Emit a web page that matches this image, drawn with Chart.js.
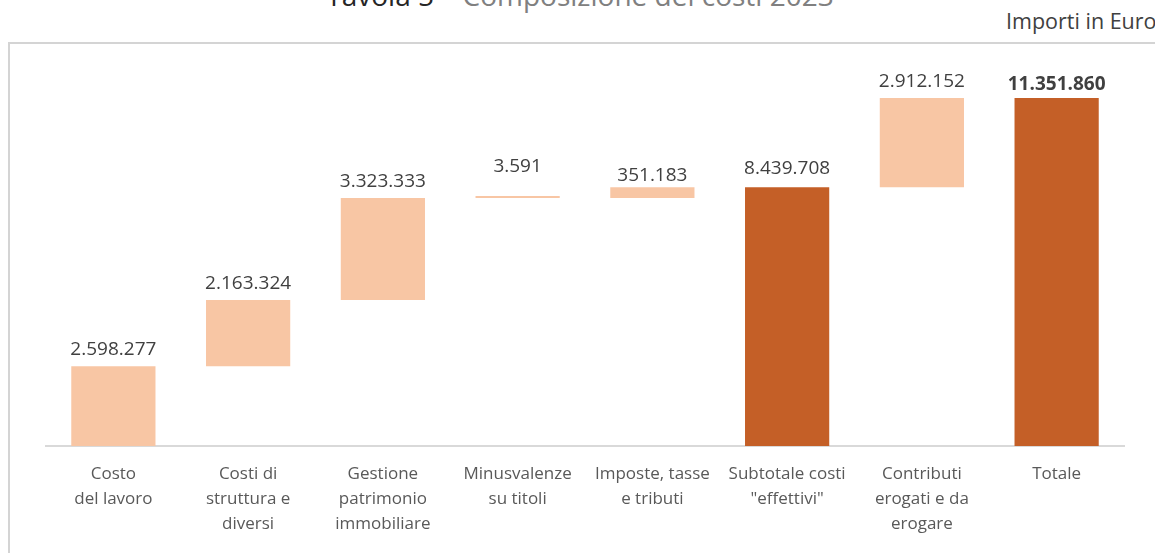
<!DOCTYPE html>
<html>
<head>
<meta charset="utf-8">
<script src="https://cdn.jsdelivr.net/npm/chart.js@4/dist/chart.umd.min.js"></script>
<style>
  html, body { margin: 0; padding: 0; background: #fff; overflow: hidden; }
  body { width: 1155px; height: 553px; position: relative; font-family: "Open Sans", sans-serif; }
  #title { position: absolute; left: 0; width: 1160px; top: -19px; text-align: center; font-size: 28px; line-height: 28px; color: #808080; white-space: nowrap; }
  #title b { font-weight: normal; color: #262626; }
  #unit { position: absolute; left: 1006px; top: 6px; font-size: 21.5px; color: #404040; white-space: nowrap; }
  #frameTop { position: absolute; left: 9px; top: 42px; width: 1146px; height: 2px; background: #d4d4d4; }
  #frameLeft { position: absolute; left: 8px; top: 42px; width: 2px; height: 520px; background: #d4d4d4; }
  #wrap { position: absolute; left: 0; top: 0; width: 1155px; height: 553px; }
</style>
</head>
<body>
<div id="title"><b>Tavola 5</b> – Composizione dei costi 2023</div>
<div id="unit">Importi in Euro</div>
<div id="frameTop"></div>
<div id="frameLeft"></div>
<div id="wrap"><canvas id="chart"></canvas></div>
<script>
// voci di costo (etichette su più righe)
const categories = [
    ['Costo', 'del lavoro'],
    ['Costi di', 'struttura e', 'diversi'],
    ['Gestione', 'patrimonio', 'immobiliare'],
    ['Minusvalenze', 'su titoli'],
    ['Imposte, tasse', 'e tributi'],
    ['Subtotale costi', '"effettivi"'],
    ['Contributi', 'erogati e da', 'erogare'],
    ['Totale']
];
// importi in euro
const amounts = [2598277, 2163324, 3323333, 3591, 351183, 8439708, 2912152, 11351860];
// true = colonna di totale (parte da zero)
const isTotal = [false, false, false, false, false, true, false, true];

const lightColor = '#F8C6A4';
const darkColor = '#C45F27';

// costruisce le barre fluttuanti della cascata
let running = 0;
const floating = amounts.map((v, i) => {
    if (isTotal[i]) {
        running = v;
        return [0, v];
    }
    const seg = [running, running + v];
    running += v;
    return seg;
});

function fmt(n) {
    return n.toString().replace(/\B(?=(\d{3})+(?!\d))/g, '.');
}

// spostamento verticale extra delle etichette (px)
const labelLift = [0, 0, 0, 13, -5, 2, 0, -3];

const valueLabels = {
    id: 'valueLabels',
    afterDatasetsDraw(chart) {
        const ctx = chart.ctx;
        const meta = chart.getDatasetMeta(0);
        ctx.save();
        ctx.textAlign = 'center';
        ctx.textBaseline = 'alphabetic';
        meta.data.forEach((bar, i) => {
            const top = Math.min(bar.y, bar.base);
            ctx.font = (i === amounts.length - 1 ? 'bold ' : '') + '19px "Open Sans"';
            ctx.fillStyle = '#404040';
            ctx.fillText(fmt(amounts[i]), bar.x, top - 11 - labelLift[i]);
        });
        ctx.restore();
    }
};

new Chart(document.getElementById('chart'), {
    type: 'bar',
    data: {
        labels: categories,
        datasets: [{
            data: floating,
            backgroundColor: isTotal.map(t => t ? darkColor : lightColor),
            borderWidth: 0,
            minBarLength: 2,
            categoryPercentage: 1,
            barPercentage: 0.625
        }]
    },
    options: {
        responsive: true,
        maintainAspectRatio: false,
        animation: false,
        layout: { padding: { left: 46, right: 31, top: 78, bottom: 0 } },
        plugins: {
            legend: { display: false },
            tooltip: { enabled: false }
        },
        scales: {
            x: {
                grid: { display: false, drawTicks: false },
                border: { display: true, color: '#d9d9d9', width: 2 },
                ticks: {
                    autoSkip: false,
                    maxRotation: 0,
                    padding: 16,
                    color: '#595959',
                    font: { family: 'Open Sans', size: 17, lineHeight: 25 / 17 }
                }
            },
            y: {
                display: false,
                min: 0,
                max: 12000000
            }
        }
    },
    plugins: [valueLabels]
});
</script>
</body>
</html>
